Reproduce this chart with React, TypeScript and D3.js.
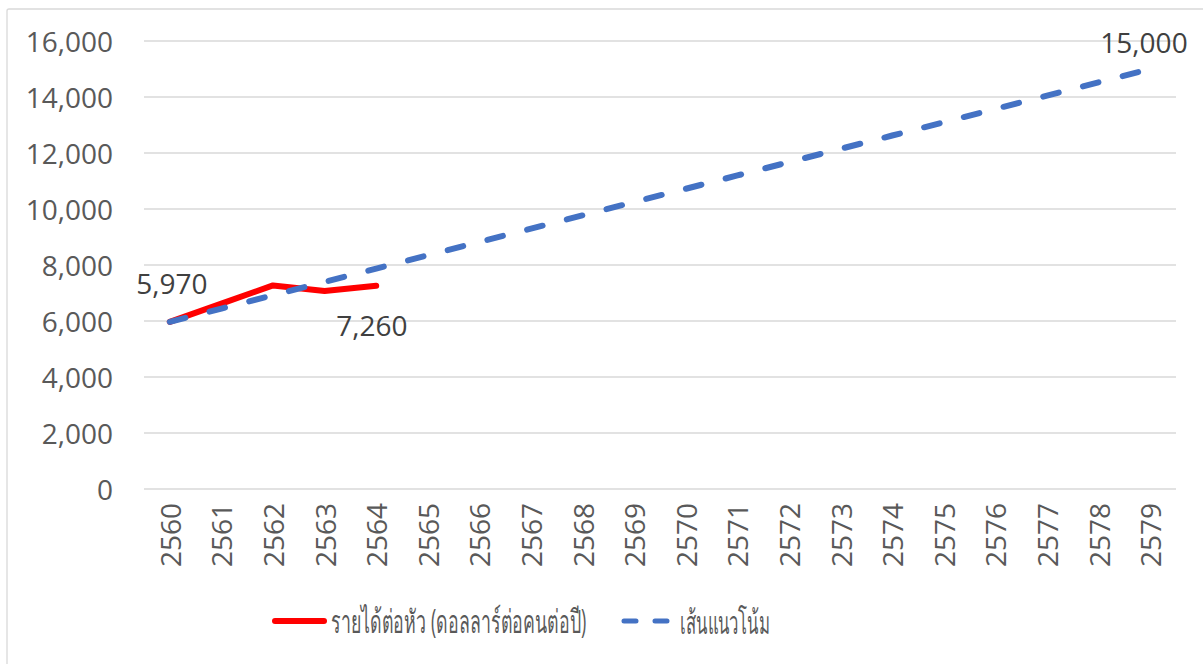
import React, { useLayoutEffect, useRef, useState } from "react";
import * as d3 from "d3";

const years = ["2560","2561","2562","2563","2564","2565","2566","2567","2568","2569","2570","2571","2572","2573","2574","2575","2576","2577","2578","2579"];
const incomeValues = [5970, 6620, 7270, 7070, 7260];
const trendValues = [5970, 6445, 6921, 7396, 7871, 8346, 8822, 9297, 9772, 10248, 10723, 11198, 11673, 12149, 12624, 13099, 13575, 14050, 14525, 15000];
const yTicks = [0, 2000, 4000, 6000, 8000, 10000, 12000, 14000, 16000];
const seriesNames = ["รายได้ต่อหัว (ดอลลาร์ต่อคนต่อปี)", "เส้นแนวโน้ม"];

const W = 1203, H = 664;
const FONT = "'Open Sans', 'Noto Sans', sans-serif";

export default function App() {
  const x = d3.scaleBand<string>().domain(years).range([144, 1176]);
  const cx = (c: string) => (x(c) as number) + x.bandwidth() / 2;
  const y = d3.scaleLinear().domain([0, 16000]).range([489, 41]);
  const fmt = d3.format(",");

  const line = d3.line<number>().x((_, i) => cx(years[i])).y((d) => y(d));

  const l1 = useRef<SVGTextElement>(null);
  const l2 = useRef<SVGTextElement>(null);
  const [sc, setSc] = useState<[number, number]>([0.6, 0.6]);
  useLayoutEffect(() => {
    const w1 = l1.current ? l1.current.getComputedTextLength() : 420;
    const w2 = l2.current ? l2.current.getComputedTextLength() : 150;
    setSc([252 / (w1 || 420), 90 / (w2 || 150)]);
  }, []);

  return (
    <svg width={W} height={H} style={{ position: "absolute", left: 0, top: 0, background: "#fff" }}>
      <rect x={7} y={9} width={1220} height={700} fill="#fff" stroke="#d9d9d9" strokeWidth={1.3} rx={2} />
      {yTicks.map((t) => (
        <g key={t}>
          <line x1={144} x2={1176} y1={y(t)} y2={y(t)} stroke="#d9d9d9" strokeWidth={1.5} />
          <text x={113} y={y(t)} textAnchor="end" dominantBaseline="central" fontFamily={FONT} fontSize={28} fill="#595959">{fmt(t)}</text>
        </g>
      ))}
      {years.map((c) => (
        <text key={c} transform={`translate(${cx(c)},503) rotate(-90)`} textAnchor="end" dominantBaseline="central" fontFamily={FONT} fontSize={28} fill="#595959">{c}</text>
      ))}
      <path d={line(incomeValues) || ""} fill="none" stroke="#ff0000" strokeWidth={6} strokeLinejoin="round" strokeLinecap="round" />
      <path d={line(trendValues) || ""} fill="none" stroke="#4472c4" strokeWidth={6} strokeDasharray="16 25" strokeLinecap="round" />
      <text x={172} y={283} textAnchor="middle" dominantBaseline="central" fontFamily={FONT} fontSize={28} fill="#404040">{fmt(incomeValues[0])}</text>
      <text x={372} y={325} textAnchor="middle" dominantBaseline="central" fontFamily={FONT} fontSize={28} fill="#404040">{fmt(incomeValues[4])}</text>
      <text x={1144} y={42} textAnchor="middle" dominantBaseline="central" fontFamily={FONT} fontSize={28} fill="#404040">{fmt(trendValues[19])}</text>
      <g>
        <line x1={275} x2={324} y1={621} y2={621} stroke="#ff0000" strokeWidth={6} strokeLinecap="round" />
        <text ref={l1} transform={`translate(331,621) scale(${sc[0]},1)`} dominantBaseline="central" fontFamily={FONT} fontSize={32} fill="#595959">{seriesNames[0]}</text>
        <line x1={624} x2={668} y1={621} y2={621} stroke="#4472c4" strokeWidth={5} strokeDasharray="12 19" strokeLinecap="round" />
        <text ref={l2} transform={`translate(680,621) scale(${sc[1]},1)`} dominantBaseline="central" fontFamily={FONT} fontSize={32} fill="#595959">{seriesNames[1]}</text>
      </g>
    </svg>
  );
}
